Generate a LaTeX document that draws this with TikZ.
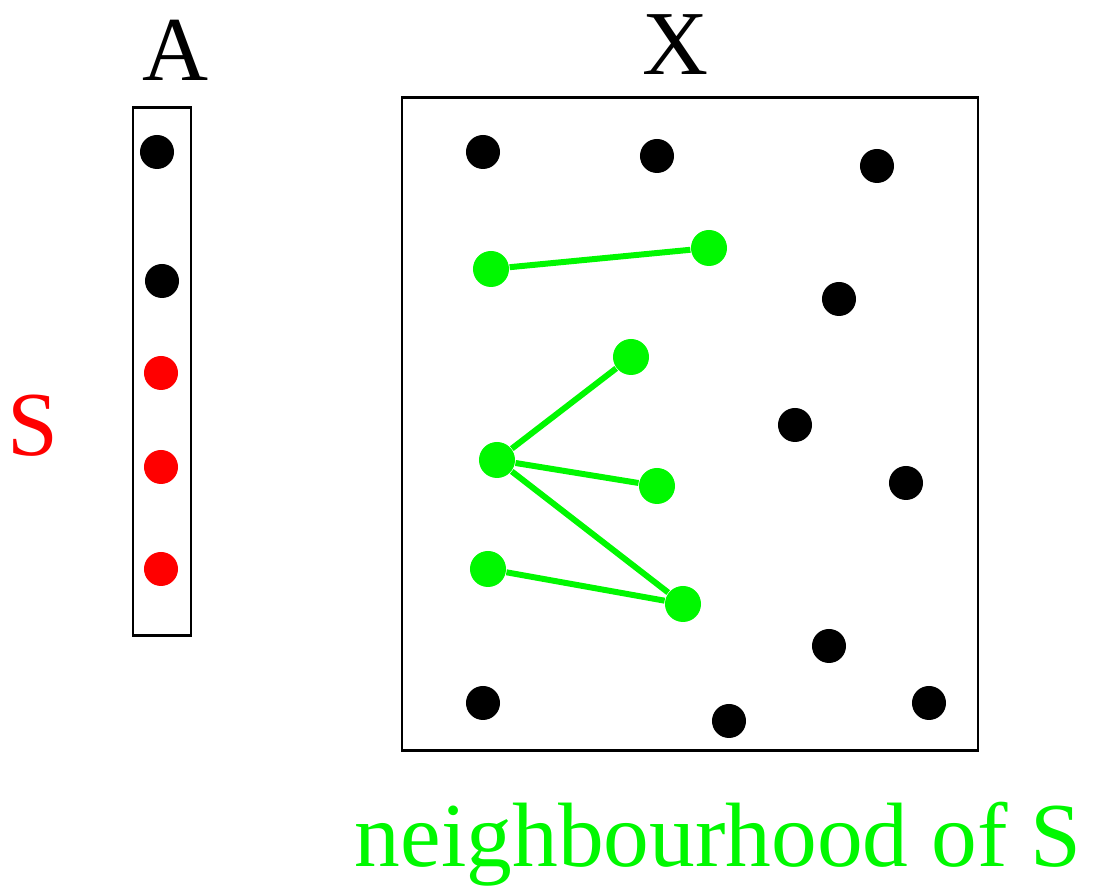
\documentclass[tikz,border=0pt]{standalone}
\usepackage{fontspec}
\setmainfont{Liberation Serif}
\usepackage{xcolor}
\definecolor{dotgreen}{HTML}{00F800}
\definecolor{dotred}{HTML}{FF0000}
\tikzset{
  frame/.style={draw=black,line width=0.85pt},
  pt/.style={circle,fill=black,inner sep=0pt,minimum size=0.34cm},
  redpt/.style={pt,fill=dotred},
  greenpt/.style={pt,fill=dotgreen,minimum size=0.36cm},
  link/.style={draw=dotgreen,line width=1.7pt},
  big/.style={font=\fontsize{26}{30}\selectfont,inner sep=0pt}
}
\begin{document}
\begin{tikzpicture}[x=0.01cm,y=-0.01cm]
    \useasboundingbox (0,0) rectangle (1093,889);
    % the two sets
    \draw[frame] (133,108) rectangle (191,636);
    \draw[frame] (402,98) rectangle (978,751);
    \node[big] (labA) at (176,50) {A};
    \node[big] (labX) at (676,45) {X};
    \node[big,text=dotred] (labS) at (33,426) {S};
    \node[big,text=dotgreen,anchor=base] (labN) at (718,867) {neighbourhood of S};

    % points of A
    \node[pt] (a1) at (157,152) {};
    \node[pt] (a2) at (162,281) {};
    \node[redpt] (s1) at (161,373) {};
    \node[redpt] (s2) at (161,467) {};
    \node[redpt] (s3) at (161,569) {};

    % points of X
    \node[pt] (x1) at (483,152) {};
    \node[pt] (x2) at (657,156) {};
    \node[pt] (x3) at (877,166) {};
    \node[pt] (x4) at (839,299) {};
    \node[pt] (x5) at (795,425) {};
    \node[pt] (x6) at (906,483) {};
    \node[pt] (x7) at (829,646) {};
    \node[pt] (x8) at (483,703) {};
    \node[pt] (x9) at (729,721) {};
    \node[pt] (x10) at (929,703) {};

    % neighbourhood
    \node[greenpt] (n1) at (491,269) {};
    \node[greenpt] (n2) at (709,248) {};
    \node[greenpt] (n3) at (631,357) {};
    \node[greenpt] (n4) at (497,460) {};
    \node[greenpt] (n5) at (657,486) {};
    \node[greenpt] (n6) at (488,569) {};
    \node[greenpt] (n7) at (683,604) {};

    \draw[link] (n1) -- (n2);
    \draw[link] (n4) -- (n3);
    \draw[link] (n4) -- (n5);
    \draw[link] (n4) -- (n7);
    \draw[link] (n6) -- (n7);
  \end{tikzpicture}
\end{document}
